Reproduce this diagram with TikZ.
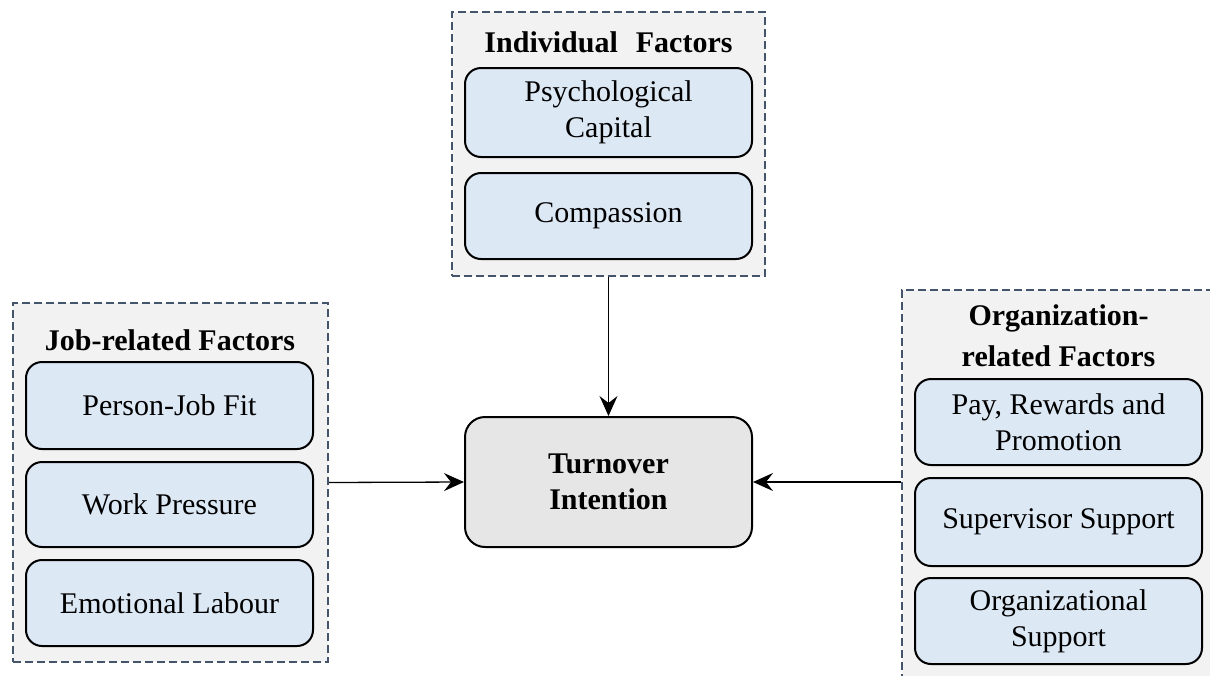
\documentclass[tikz,border=0pt]{standalone}
\usepackage{fontspec}
\setmainfont{Liberation Serif}
\usetikzlibrary{arrows.meta}
\definecolor{grpfill}{HTML}{F2F2F2}
\definecolor{grpline}{HTML}{44546A}
\definecolor{boxfill}{HTML}{DDE8F5}
\definecolor{turnfill}{HTML}{E6E6E6}
\begin{document}
\begin{tikzpicture}[x=1pt,y=-1pt,
  grp/.style={draw=grpline, fill=grpfill, line width=2pt, dash pattern=on 8pt off 4pt, rectangle, inner sep=0pt},
  factor/.style={draw=black, fill=boxfill, line width=2pt, rounded corners=16pt, rectangle,
    minimum width=287pt, align=center, inner sep=0pt,
    font=\fontsize{30}{36}\selectfont},
  ttl/.style={align=center, inner sep=0pt, font=\fontsize{30}{41}\selectfont\bfseries},
  turn/.style={draw=black, fill=turnfill, line width=2pt, rounded corners=20pt, rectangle,
    minimum width=287pt, minimum height=130pt, align=center, inner sep=0pt,
    font=\fontsize{30}{36}\selectfont\bfseries},
  arr/.style={line width=1.3pt, -{Stealth[length=20pt, width=18pt, inset=7pt]}}
]
\useasboundingbox (0,0) rectangle (1210,675);
\clip (0,0) rectangle (1210,675);
% groups
\node[grp, minimum width=313pt, minimum height=264pt] (gind) at (608.5,144) {};
\node[grp, minimum width=315pt, minimum height=359pt] (gjob) at (170.5,482.5) {};
\node[grp, minimum width=330pt, minimum height=420pt] (gorg) at (1067,500) {};
% titles
\node[ttl] (tind) at (608.5,42) {Individual\hspace{0.35em} Factors};
\node[ttl] (tjob) at (170,340) {Job-related Factors};
\node[ttl] (torg) at (1058.5,336) {Organization-\\related Factors};
% factor boxes
\node[factor, minimum height=89pt] (psy) at (608.5,112.5) {Psychological\\Capital};
\node[factor, minimum height=86pt] (com) at (608.5,216) {\raisebox{-2pt}{Compassion}};
\node[factor, minimum height=87pt] (pjf) at (169.5,405.5) {\raisebox{-2pt}{Person-Job Fit}};
\node[factor, minimum height=85pt] (wp) at (169.5,504.5) {\raisebox{-2pt}{Work Pressure}};
\node[factor, minimum height=86pt] (el) at (169.5,603) {\raisebox{-2pt}{Emotional Labour}};
\node[factor, minimum height=86pt] (prp) at (1058.5,422) {Pay, Rewards and\\Promotion};
\node[factor, minimum height=88pt] (ss) at (1058.5,522) {\raisebox{-2pt}{Supervisor Support}};
\node[factor, minimum height=86pt] (os) at (1058.5,621) {Organizational\\Support};
% outcome
\node[turn] (turn) at (608.5,482) {Turnover\\Intention};
% connectors
\draw[arr] (gind.south) -- (turn.north);
\draw[arr] (gjob.east) -- (turn.west);
\draw[arr] (gorg.west |- turn.east) -- (turn.east);
\end{tikzpicture}
\end{document}
